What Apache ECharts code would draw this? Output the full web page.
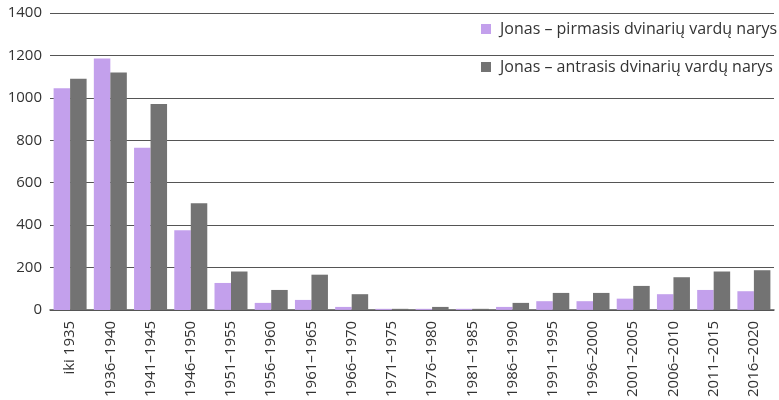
<!DOCTYPE html>
<html>
<head>
<meta charset="utf-8">
<script src="https://cdn.jsdelivr.net/npm/echarts@6/dist/echarts.min.js"></script>
<style>
  html, body { margin: 0; padding: 0; background: #fff; }
  #chart { width: 779px; height: 400px; }
</style>
</head>
<body>
<div id="chart"></div>
<script>
// Five-year periods
const periods = [
  'iki 1935', '1936–1940', '1941–1945', '1946–1950', '1951–1955', '1956–1960',
  '1961–1965', '1966–1970', '1971–1975', '1976–1980', '1981–1985', '1986–1990',
  '1991–1995', '1996–2000', '2001–2005', '2006–2010', '2011–2015', '2016–2020'
];

// "Jonas" as the first part of a double given name
const firstPart = [1045, 1185, 765, 376, 127, 33, 47, 14, 5, 5, 5, 14, 41, 41, 53, 74, 94, 88];

// "Jonas" as the second part of a double given name
const secondPart = [1090, 1119, 971, 503, 181, 94, 166, 74, 5, 14, 5, 33, 80, 80, 113, 154, 181, 187];

const seriesNames = [
  'Jonas – pirmasis dvinarių vardų narys',
  'Jonas – antrasis dvinarių vardų narys'
];

const yTicks = { min: 0, max: 1400, interval: 200 };

const font = '"Open Sans", Roboto, sans-serif';
const chart = echarts.init(document.getElementById('chart'), null, { renderer: 'canvas' });

chart.setOption({
  animation: false,
  backgroundColor: '#ffffff',
  textStyle: { fontFamily: font },
  grid: { left: 50, right: 5, top: 13, bottom: 90, containLabel: false },
  legend: {
    orient: 'vertical',
    left: 481,
    top: 21,
    padding: 0,
    itemWidth: 10,
    itemHeight: 10,
    itemGap: 22,
    icon: 'rect',
    textStyle: { fontSize: 16, color: '#333', lineHeight: 16, fontFamily: font, padding: [0, 0, 0, 4] },
    data: seriesNames
  },
  xAxis: {
    type: 'category',
    data: periods,
    axisTick: { show: false },
    axisLine: { show: true, lineStyle: { color: '#555', width: 1.5 } },
    axisLabel: {
      rotate: 90,
      interval: 0,
      margin: 11,
      fontSize: 15,
      color: '#333',
      fontFamily: font
    }
  },
  yAxis: {
    type: 'value',
    min: yTicks.min,
    max: yTicks.max,
    interval: yTicks.interval,
    axisLine: { show: false },
    axisTick: { show: false },
    splitLine: { show: true, lineStyle: { color: '#555', width: 1 } },
    axisLabel: {
      fontSize: 15,
      color: '#333',
      margin: 8,
      fontFamily: font,
      formatter: (v) => String(v)
    }
  },
  series: [
    {
      name: seriesNames[0],
      type: 'bar',
      data: firstPart,
      barWidth: 16.5,
      barGap: '0%',
      itemStyle: { color: '#c3a0ec' }
    },
    {
      name: seriesNames[1],
      type: 'bar',
      data: secondPart,
      barWidth: 16.5,
      barGap: '0%',
      itemStyle: { color: '#737373' }
    }
  ]
});
</script>
</body>
</html>
